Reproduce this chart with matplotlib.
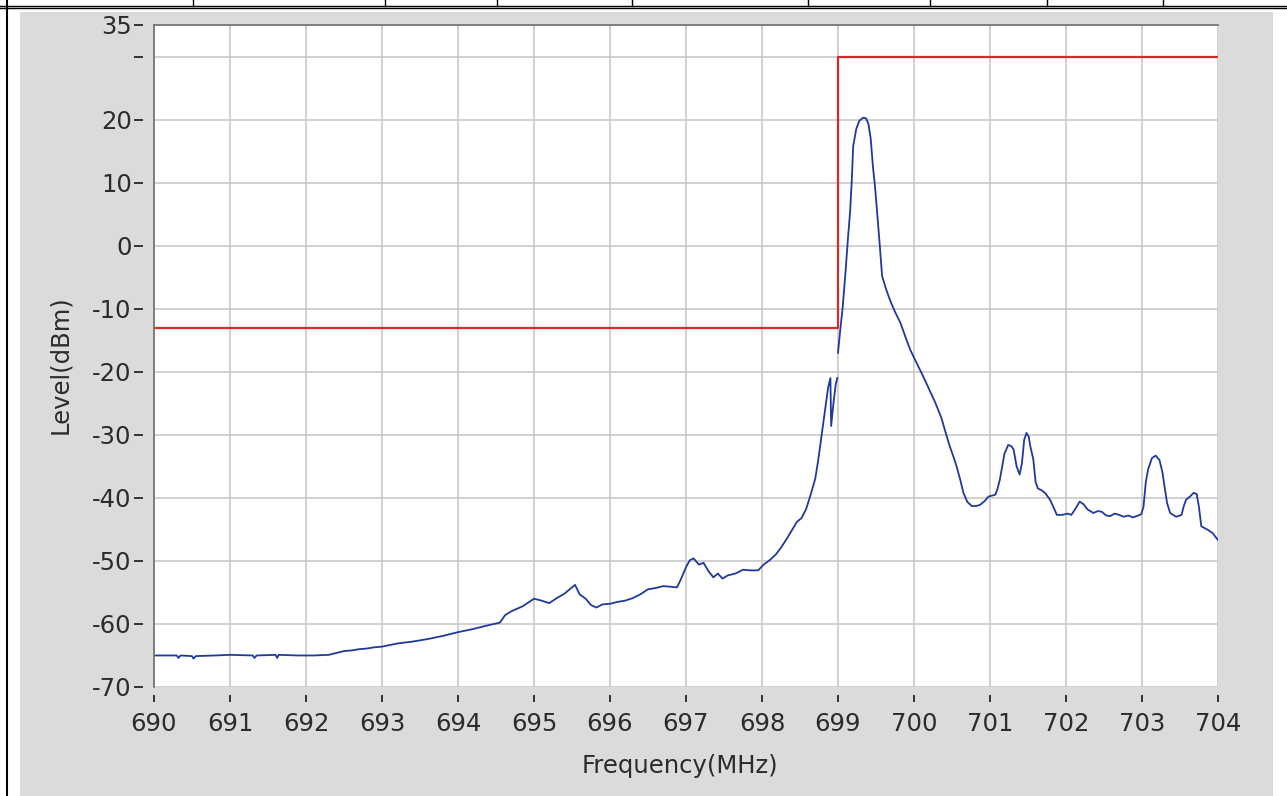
import numpy as np
import matplotlib
matplotlib.use('Agg')
import matplotlib.pyplot as plt
from matplotlib.lines import Line2D
from matplotlib.patches import Rectangle

# spectrum trace
freq = [690.00, 690.30, 690.32, 690.35, 690.50, 690.52, 690.55, 690.80, 691.00, 691.30,
        691.32, 691.35, 691.60, 691.62, 691.64, 691.90, 692.10, 692.30, 692.40, 692.50,
        692.60, 692.70, 692.80, 692.90, 693.00, 693.20, 693.40, 693.60, 693.80, 694.00,
        694.20, 694.40, 694.55, 694.62, 694.70, 694.85, 695.00, 695.10, 695.20, 695.30,
        695.40, 695.47, 695.54, 695.60, 695.68, 695.75, 695.82, 695.90, 696.00, 696.10,
        696.20, 696.30, 696.40, 696.50, 696.60, 696.70, 696.80, 696.88, 696.93, 697.00,
        697.05, 697.10, 697.17, 697.23, 697.30, 697.36, 697.42, 697.48, 697.55, 697.65,
        697.75, 697.85, 697.95, 698.02, 698.10, 698.18, 698.25, 698.32, 698.40, 698.46,
        698.52, 698.58, 698.64, 698.70, 698.74, 698.78, 698.83, 698.87, 698.90, 698.91,
        698.94, 698.97, 698.99, np.nan, 699.00, 699.03, 699.06, 699.10, 699.13, 699.16,
        699.18, 699.20, 699.24, 699.28, 699.33, 699.37, 699.40, 699.43, 699.46, 699.49,
        699.52, 699.55, 699.58, 699.63, 699.68, 699.75, 699.82, 699.90, 699.95, 700.05,
        700.12, 700.20, 700.28, 700.36, 700.42, 700.47, 700.52, 700.56, 700.61, 700.65,
        700.70, 700.76, 700.82, 700.87, 700.93, 700.98, 701.07, 701.10, 701.13, 701.16,
        701.19, 701.24, 701.28, 701.31, 701.35, 701.39, 701.42, 701.45, 701.48, 701.51,
        701.53, 701.57, 701.60, 701.63, 701.68, 701.73, 701.79, 701.84, 701.88, 701.95,
        702.02, 702.07, 702.12, 702.18, 702.23, 702.28, 702.36, 702.42, 702.47, 702.53,
        702.58, 702.64, 702.70, 702.76, 702.82, 702.88, 702.93, 702.99, 703.02, 703.05,
        703.08, 703.13, 703.18, 703.23, 703.27, 703.30, 703.33, 703.37, 703.45, 703.52,
        703.55, 703.58, 703.63, 703.68, 703.72, 703.75, 703.78, 703.87, 703.93, 704.00]
level = [-65.0, -65.0, -65.4, -65.0, -65.1, -65.5, -65.1, -65.0, -64.9, -65.0,
         -65.4, -65.0, -64.9, -65.4, -64.9, -65.0, -65.0, -64.9, -64.6, -64.3,
         -64.2, -64.0, -63.9, -63.7, -63.6, -63.1, -62.8, -62.4, -61.9, -61.3,
         -60.8, -60.2, -59.8, -58.6, -58.0, -57.2, -56.0, -56.3, -56.7, -55.9,
         -55.2, -54.5, -53.8, -55.3, -56.0, -57.0, -57.4, -56.9, -56.8, -56.5,
         -56.3, -55.9, -55.3, -54.5, -54.3, -54.0, -54.1, -54.2, -53.0, -51.0,
         -49.9, -49.6, -50.6, -50.3, -51.7, -52.6, -52.0, -52.8, -52.3, -52.0,
         -51.4, -51.5, -51.5, -50.6, -49.9, -49.0, -47.9, -46.6, -45.0, -43.8,
         -43.2, -41.8, -39.5, -37.0, -34.0, -30.5, -26.0, -22.5, -21.0, -28.6,
         -25.0, -22.0, -21.0, np.nan, -17.0, -13.3, -10.0, -4.0, 1.0, 5.5,
         10.0, 15.8, 18.5, 19.8, 20.3, 20.2, 19.3, 17.0, 12.5, 9.0,
         4.5, 0.0, -4.8, -6.8, -8.5, -10.5, -12.2, -14.9, -16.5, -19.0,
         -20.7, -22.8, -24.9, -27.3, -29.8, -31.8, -33.5, -35.0, -37.2, -39.2,
         -40.6, -41.3, -41.3, -41.1, -40.5, -39.8, -39.5, -38.5, -37.1, -35.0,
         -33.0, -31.6, -31.8, -32.3, -35.0, -36.3, -34.5, -30.8, -29.7, -30.3,
         -31.8, -33.9, -37.5, -38.5, -38.8, -39.3, -40.3, -41.6, -42.7, -42.7,
         -42.5, -42.7, -41.8, -40.6, -41.0, -41.8, -42.4, -42.1, -42.2, -42.8,
         -42.9, -42.5, -42.7, -43.0, -42.8, -43.1, -42.9, -42.6, -41.4, -37.5,
         -35.5, -33.7, -33.3, -34.0, -36.0, -38.5, -40.8, -42.4, -43.0, -42.7,
         -41.3, -40.3, -39.8, -39.2, -39.4, -41.5, -44.5, -45.1, -45.6, -46.7]

# emission mask (steps-post)
limit_freq = [690, 699, 704]
limit_level = [-13, 30, 30]

x_ticks = list(range(690, 705))
y_ticks = [35, 30, 20, 10, 0, -10, -20, -30, -40, -50, -60, -70]
y_labels = ['35', '', '20', '10', '0', '-10', '-20', '-30', '-40', '-50', '-60', '-70']

W, H = 1287, 796
FONT = 'DejaVu Sans'
FS = 17.5
TXT = '#2b2b2b'

fig = plt.figure(figsize=(W / 100, H / 100), dpi=100, facecolor='white')

def px(x, y):
    # pixel coords (origin top-left) -> figure fraction
    return x / W, 1 - y / H

# grey panel behind the graph
x0, y0 = px(20, 796)
x1, y1 = px(1273, 12)
fig.patches.append(Rectangle((x0, y0), x1 - x0, y1 - y0, transform=fig.transFigure,
                             facecolor='#dbdbdb', edgecolor='none', zorder=-10))

# table border at the top of the screenshot
for yy in (5.5, 8.0):
    fig.lines.append(Line2D([0, 1], [1 - yy / H] * 2, transform=fig.transFigure,
                            color='black', lw=1.0, zorder=-5))
fig.lines.append(Line2D([6.5 / W] * 2, [0, 1], transform=fig.transFigure, color='black',
                        lw=1.5, zorder=-5))
for xx in [193, 385, 497, 632, 808, 930, 1047, 1163]:
    fig.lines.append(Line2D([xx / W] * 2, [1 - 6 / H, 1], transform=fig.transFigure,
                            color='black', lw=1.0, zorder=-5))

ax = fig.add_axes([154 / W, (H - 687) / H, 1064 / W, 662 / H])
ax.set_facecolor('white')

ax.plot(limit_freq, limit_level, drawstyle='steps-post', color='#d42a2a', lw=1.6, zorder=3)
ax.plot(freq, level, color='#1f3a9c', lw=1.3, zorder=4)

ax.set_xlim(690, 704)
ax.set_ylim(-70, 35)
ax.set_xticks(x_ticks)
ax.set_xticklabels([str(v) for v in x_ticks])
ax.set_yticks(y_ticks)
ax.set_yticklabels(y_labels)
ax.grid(True, color='#c9c9c9', lw=1.2, zorder=1)
ax.set_axisbelow(True)

for s in ax.spines.values():
    s.set_visible(False)
ax.spines['left'].set_position(('outward', 8))
ax.spines['bottom'].set_position(('outward', 6))

ax.tick_params(axis='y', direction='out', length=6.5, width=1.4, color='#333333',
               pad=1.5, labelsize=FS, labelcolor=TXT)
ax.tick_params(axis='x', direction='out', length=5, width=1.4, color='#333333',
               pad=7, labelsize=FS, labelcolor=TXT)
for lab in ax.get_xticklabels() + ax.get_yticklabels():
    lab.set_family(FONT)

# frame: only the left and top edges are drawn dark
ax.plot([0, 0], [0, 1], transform=ax.transAxes, color='#777777', lw=1.3, clip_on=False, zorder=5)
ax.plot([0, 1], [1, 1], transform=ax.transAxes, color='#777777', lw=1.3, clip_on=False, zorder=5)

lx, ly = px(60, 365)
fig.text(lx, ly, 'Level(dBm)', rotation=90, ha='center', va='center',
         fontsize=FS, color=TXT, family=FONT)
fx, fy = px(680, 773)
fig.text(fx, fy, 'Frequency(MHz)', ha='center', va='baseline',
         fontsize=FS, color=TXT, family=FONT)

fig.savefig('out.png', dpi=100, facecolor='white')
